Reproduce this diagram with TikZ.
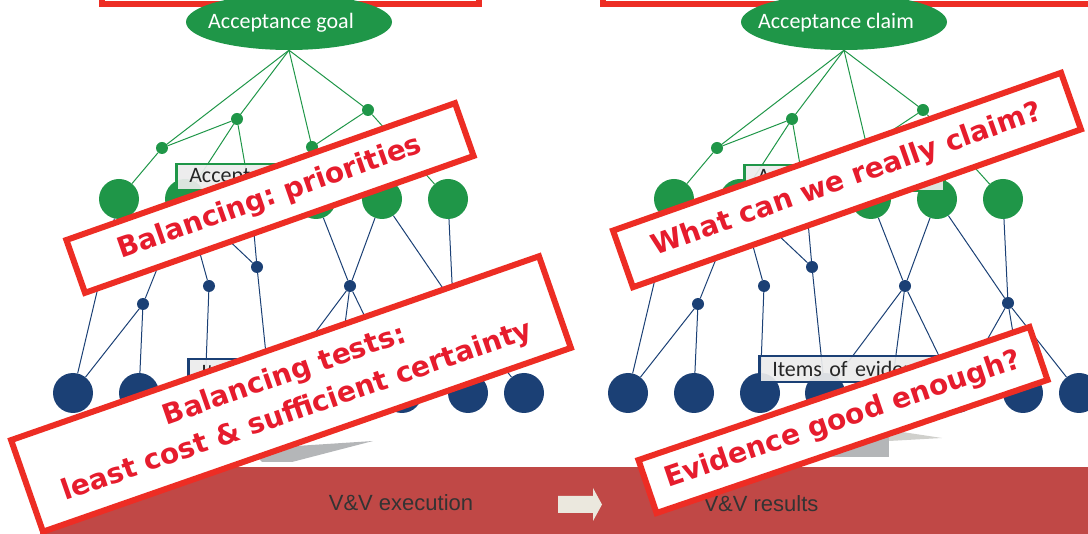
\documentclass[tikz,border=0pt]{standalone}
\usepackage{fontspec}
\setmainfont{Carlito}
\newfontfamily\stampfont{DejaVu Sans}
\newfontfamily\bandfont{Liberation Sans}
\usetikzlibrary{shapes.geometric}
\frenchspacing

\definecolor{treegreen}{RGB}{31,150,72}
\definecolor{treeblue}{RGB}{27,64,117}
\definecolor{stampred}{RGB}{237,45,36}
\definecolor{stamptext}{RGB}{230,28,45}
\definecolor{bandred}{RGB}{192,72,70}
\definecolor{arrowbeige}{RGB}{235,232,222}
\definecolor{shadegray}{RGB}{180,182,184}
\definecolor{shadelight}{RGB}{208,208,204}

\begin{document}
\begin{tikzpicture}[
    x=1pt, y=-1pt,
    glink/.style={draw=treegreen, line width=1pt},
    blink/.style={draw=treeblue, line width=1pt},
    gdot/.style={circle, fill=treegreen, inner sep=0pt, minimum size=12pt},
    gball/.style={circle, fill=treegreen, inner sep=0pt, minimum size=40pt},
    bdot/.style={circle, fill=treeblue, inner sep=0pt, minimum size=12pt},
    bball/.style={circle, fill=treeblue, inner sep=0pt, minimum size=40pt},
    goalshape/.style={ellipse, fill=treegreen, inner sep=0pt, minimum width=206pt, minimum height=56pt},
    tag/.style={rectangle, anchor=north west, fill=gray!15, fill opacity=0.92, text opacity=1, line width=2.5pt,
        text width=174pt, inner xsep=13pt, inner ysep=0pt, minimum height=26pt, align=left,
        font=\fontsize{22}{26}\selectfont, text=black!85},
    stamp/.style={rectangle, draw=stampred, fill=white, line width=6pt, inner sep=0pt, align=center,
        text=stamptext, font=\stampfont\bfseries\fontsize{28}{38}\selectfont},
    bandtext/.style={font=\bandfont\fontsize{22}{26}\selectfont, text=black!80}
]
    \useasboundingbox (0,0) rectangle (1088,534);

    % Top frames (cut off)
    \draw[stampred, line width=6pt] (102,-40) rectangle (479,4);
    \draw[stampred, line width=6pt] (603,-40) rectangle (1110,4);

    % The two trees
    \foreach \dx/\s/\goaltxt/\gx/\gy/\bx/\by in {0/l/Acceptance goal/175/163/187/358, 555/r/Acceptance claim/188/164/203/355} {
    \begin{scope}[xshift=\dx pt]
        \node[goalshape] (goal\s) at (289,22) {};
        \node[text=white, font=\fontsize{22}{26}\selectfont] (goaltxt\s) at (281,23) {\goaltxt};

        % green level
        \node[gdot] (g1\s) at (162,148) {};
        \node[gdot] (g2\s) at (237,119) {};
        \node[gdot] (g3\s) at (312,147) {};
        \node[gdot] (g4\s) at (368,110) {};
        \node[gball] (G1\s) at (119,199) {};
        \node[gball] (G2\s) at (185,199) {};
        \node[gball] (G3\s) at (251,199) {};
        \node[gball] (G4\s) at (316,199) {};
        \node[gball] (G5\s) at (382,199) {};
        \node[gball] (G6\s) at (448,199) {};

        % blue level
        \node[bdot] (b1\s) at (143,304) {};
        \node[bdot] (b2\s) at (209,286) {};
        \node[bdot] (b3\s) at (257,267) {};
        \node[bdot] (b4\s) at (350,286) {};
        \node[bdot] (b5\s) at (453,303) {};
        \foreach \i/\cx in {1/73, 2/139, 3/205, 4/270, 5/336, 6/402, 7/468, 8/524}
            \node[bball] (c\i\s) at (\cx,393) {};

        % links
        \foreach \b in {g1,g2,g3,g4}
            \draw[glink] (goal\s.south) -- (\b\s.center);
        \foreach \a/\b in {g2/g1, g4/g3, g1/G1, g2/G2, g2/G3, g3/G4, g3/G5, g4/G6}
            \draw[glink] (\a\s) -- (\b\s);
        \foreach \a/\b in {G1/c1, G2/b1, G2/b2, G2/b3, G3/b3, G4/b4, G5/b4, G5/b5, G6/b5,
                           b1/c1, b1/c2, b2/c3, b3/c4, b4/c4, b4/c5, b4/c6, b5/c6, b5/c7, b5/c8}
            \draw[blink] (\a\s) -- (\b\s);

        % labels
        \node[tag, draw=treegreen] (crit\s) at (\gx,\gy) {Acceptance};
        \node[tag, draw=treeblue] (items\s) at (\bx,\by) {Items of evidence};
    \end{scope}
    }

    % Grey shapes under the trees
    \fill[shadegray] (250,449) -- (373,441) -- (292,462) -- (262,462) -- cycle;
    \fill[shadegray] (820,433) -- (889,433) -- (889,457) -- (820,457) -- cycle;
    \fill[shadelight] (889,430) -- (942,438) -- (889,441) -- cycle;

    % Bottom band
    \fill[bandred] (40,467) rectangle (1088,534);
    \node[bandtext] (exec) at (401,503) {V\&V execution};
    \node[bandtext] (results) at (761,504) {V\&V results};
    \fill[arrowbeige] (558,496) -- (593,496) -- (593,488) -- (602,504.5) -- (593,521) -- (593,513) -- (558,513) -- cycle;

    % Stamps
    \node[stamp, rotate=19.4, minimum width=412pt, minimum height=56pt] (prio) at (270,198) {Balancing: priorities};
    \node[stamp, rotate=19.2, minimum width=559pt, minimum height=97pt] (tests) at (291,394) {Balancing tests:\\least cost \& sufficient certainty};
    \node[stamp, rotate=19.4, minimum width=475pt, minimum height=60pt] (claim) at (847,180) {What can we really claim?};
    \node[stamp, rotate=18.8, minimum width=413pt, minimum height=56pt] (enough) at (843,420) {Evidence good enough?};

\end{tikzpicture}
\end{document}
